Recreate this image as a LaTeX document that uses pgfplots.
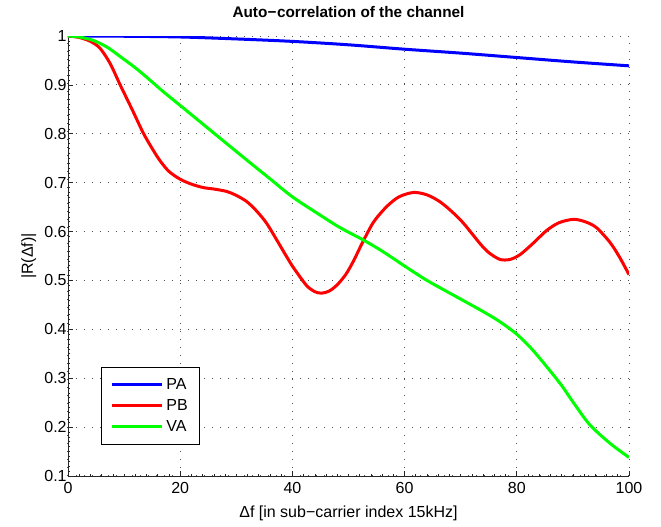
\documentclass[border=0pt]{standalone}
\usepackage{fontspec}
\setmainfont{Liberation Sans}
\usepackage{pgfplots}
\pgfplotsset{compat=1.18}

\definecolor{mblue}{rgb}{0,0,1}
\definecolor{mred}{rgb}{1,0,0}
\definecolor{mgreen}{rgb}{0,1,0}

\begin{document}
\begin{tikzpicture}
\useasboundingbox (-51pt,-38.25pt) rectangle (444.75pt,357pt);
\begin{axis}[
  at={(0,0)}, anchor=south west,
  scale only axis,
  width=420.75pt, height=330pt,
  xmin=0, xmax=100, ymin=0.1, ymax=1,
  axis x line*=bottom, axis y line*=left,
  axis line style={black!85, line width=0.6pt},
  xtick={0,20,40,60,80,100},
  ytick={0.1,0.2,0.3,0.4,0.5,0.6,0.7,0.8,0.9,1},
  yticklabels={0.1,0.2,0.3,0.4,0.5,0.6,0.7,0.8,0.9,1},
  minor x tick num=9, minor y tick num=9,
  tick align=inside,
  major tick length=3.75pt, minor tick length=1.6pt,
  tick style={black!85, line width=0.5pt},
  /pgf/number format/assume math mode=true,
  tick label style={font=\fontsize{12}{14}\selectfont, black},
  xticklabel style={yshift=-1.5pt},
  yticklabel style={xshift=2.5pt},
  xmajorgrids, ymajorgrids,
  major grid style={black!70, line width=0.75pt, dash pattern=on 0.75pt off 5.25pt},
  title={\textbf{Auto\kern0.02em−\kern0.02em correlation of the channel}},
  title style={at={(axis description cs:0.5,1)}, anchor=base, yshift=8pt, font=\fontsize{11.5}{13}\selectfont},
  xlabel={Δf [in sub−carrier index 15kHz]},
  xlabel style={at={(axis description cs:0.5,0)}, anchor=base, yshift=-31pt, font=\fontsize{12}{14}\selectfont},
  ylabel={|R(Δf)|},
  ylabel style={at={(axis description cs:-0.07,0.5)}, anchor=center, font=\fontsize{12}{14}\selectfont},
  legend cell align=left,
  legend image code/.code={\draw[#1, line width=2.25pt] (0pt,0pt) -- (38pt,0pt);},
  legend style={at={(axis description cs:0.058,0.072)}, anchor=south west,
    draw=black, line width=0.6pt, font=\fontsize{12}{14}\selectfont,
    row sep=2pt, inner xsep=6.8pt, inner ysep=6pt},
]
\addplot[mblue, line width=2.25pt, smooth] coordinates {
  (0,1) (10,0.9995) (20,0.998) (30,0.994) (40,0.989) (50,0.982)
  (60,0.973) (70,0.965) (80,0.956) (90,0.947) (100,0.939)
};
\addlegendentry{PA}
\addplot[mred, line width=2.25pt, smooth] coordinates {
  (0,1) (2,0.997) (4,0.989) (5.7,0.975) (7.5,0.944) (9.3,0.900) (11.5,0.848)
  (13.4,0.802) (15,0.770) (16.4,0.745) (18,0.723) (20,0.707) (22,0.697)
  (24.1,0.690) (26,0.687) (28.3,0.682) (30,0.674) (31.9,0.661) (33.7,0.641)
  (35.4,0.617) (37.2,0.583) (39,0.548) (40.2,0.526) (42.5,0.490) (44,0.477)
  (45.2,0.474) (46.5,0.478) (47.9,0.490) (49.5,0.512) (50.9,0.540)
  (52.6,0.580) (54.5,0.620) (56.8,0.651) (59,0.671) (61.6,0.680) (64,0.675)
  (66.3,0.661) (68.5,0.640) (70.5,0.617) (73.4,0.576) (75,0.557) (77,0.543)
  (78.8,0.543) (80.6,0.553) (83,0.577) (85.3,0.602) (87.5,0.618) (90.1,0.625)
  (92.2,0.620) (94.2,0.608) (96.6,0.578) (98.3,0.548) (100,0.512)
};
\addlegendentry{PB}
\addplot[mgreen, line width=2.25pt, smooth] coordinates {
  (0,1) (2,0.998) (4.5,0.991) (7,0.977) (9.3,0.958) (12,0.935) (14.6,0.910)
  (17,0.886) (20.1,0.857) (25.3,0.808) (31.9,0.746) (36,0.708) (40,0.671)
  (44.9,0.634) (48.5,0.608) (52.6,0.583) (56,0.560) (60.2,0.528) (64,0.500)
  (68.7,0.470) (72.5,0.446) (74.5,0.433) (76.4,0.420) (78.3,0.405)
  (80.2,0.388) (82.5,0.362) (85.3,0.324) (88,0.285) (90.1,0.250) (93,0.205)
  (96.6,0.167) (100,0.138)
};
\addlegendentry{VA}
\end{axis}
\end{tikzpicture}
\end{document}
